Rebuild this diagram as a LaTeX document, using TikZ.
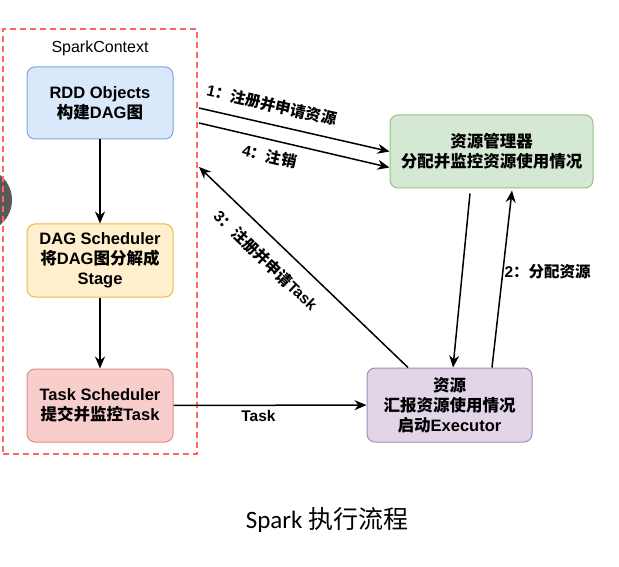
\documentclass[tikz,border=0pt]{standalone}
\usepackage{fontspec}
\setmainfont{Liberation Sans}
\newfontfamily\cjkfont{Noto Sans CJK SC}
\newfontfamily\capfont{Carlito}
\newcommand{\zh}[1]{{\cjkfont #1}}
\usetikzlibrary{arrows.meta}
\definecolor{ctxred}{HTML}{FF6666}
\definecolor{rddfill}{HTML}{DAE8FC}
\definecolor{rdddraw}{HTML}{7EA6E0}
\definecolor{dagfill}{HTML}{FFEFCC}
\definecolor{dagdraw}{HTML}{F0B849}
\definecolor{taskfill}{HTML}{F8CECC}
\definecolor{taskdraw}{HTML}{E58B8B}
\definecolor{rmfill}{HTML}{D5E8D4}
\definecolor{rmdraw}{HTML}{97C27F}
\definecolor{exfill}{HTML}{E1D5E7}
\definecolor{exdraw}{HTML}{A88BBD}

\begin{document}
\begin{tikzpicture}[x=1pt, y=-1pt]
\useasboundingbox[fill=white] (0,0) rectangle (619,567);
\tikzset{VertexStyle/.style ={draw, rounded corners=8pt, line width=1pt, align=center,
  inner sep=0pt, font=\bfseries\fontsize{16.5}{20}\selectfont}}
\tikzset{EdgeStyle/.style ={-{Stealth[length=12pt, width=10pt]}, line width=1.5pt}}
\tikzset{LabelStyle/.style ={inner sep=1pt, font=\bfseries\fontsize{15.5}{18}\selectfont}}
% screen overlay
\fill[black!65] (-20,200) circle (32);
% SparkContext
\node[draw=ctxred, line width=1.8pt, dash pattern=on 6pt off 4pt,
  minimum width=194pt, minimum height=425pt] (ctx) at (100,241.5) {};
\node[font=\fontsize{16}{18}\selectfont] (ctxlabel) at (100,48) {SparkContext};
\node[VertexStyle, fill=rddfill, draw=rdddraw, minimum width=146pt, minimum height=72pt]
  (rdd) at (100,103) {RDD Objects\\\zh{构建}DAG\zh{图}};
\node[VertexStyle, fill=dagfill, draw=dagdraw, minimum width=146pt, minimum height=73pt]
  (dag) at (100,260.5) {DAG Scheduler\\\zh{将}DAG\zh{图分解成}\\Stage};
\node[VertexStyle, fill=taskfill, draw=taskdraw, minimum width=146pt, minimum height=73pt]
  (task) at (100,405.5) {Task Scheduler\\\zh{提交并监控}Task};
\node[VertexStyle, fill=rmfill, draw=rmdraw, minimum width=203pt, minimum height=73pt]
  (rm) at (491.5,151.5) {\zh{资源管理器}\\\zh{分配并监控资源使用情况}};
\node[VertexStyle, fill=exfill, draw=exdraw, minimum width=165pt, minimum height=74pt]
  (ex) at (449.5,405) {\zh{资源}\\\zh{汇报资源使用情况}\\\zh{启动}Executor};
\coordinate (c1) at (199,108);
\coordinate (c4) at (199,123);
\coordinate (c3) at (199,167);
% edges
\draw[EdgeStyle] (rdd) -- (dag);
\draw[EdgeStyle] (dag) -- (task);
\draw[EdgeStyle] (task) -- (ex) node[LabelStyle, pos=0.44, below=3pt] {Task};
\draw[EdgeStyle] (c1) -- (rm.west)
  node[LabelStyle, pos=0.36, sloped, above=10pt] {1\zh{：注册并申请资源}};
\draw[EdgeStyle] (c4) -- ([yshift=-16pt]rm.west)
  node[LabelStyle, pos=0.39, sloped, below=7pt] {4\zh{：注销}};
\draw[EdgeStyle] ([xshift=-41.5pt]ex.north) -- (c3)
  node[LabelStyle, pos=0.61, sloped, below=12pt] {3\zh{：注册并申请}Task};
\draw[EdgeStyle] ([xshift=-21.5pt, yshift=-5pt]rm.south) -- ([xshift=3.5pt]ex.north);
\draw[EdgeStyle] ([xshift=42.5pt]ex.north) -- ([xshift=20.5pt, yshift=-2pt]rm.south)
  node[LabelStyle, pos=0.54, right] {2\zh{：分配资源}};
\node[font=\fontsize{25}{29}\selectfont] (caption) at (327,520) {\capfont Spark \zh{执行流程}};
\end{tikzpicture}
\end{document}
